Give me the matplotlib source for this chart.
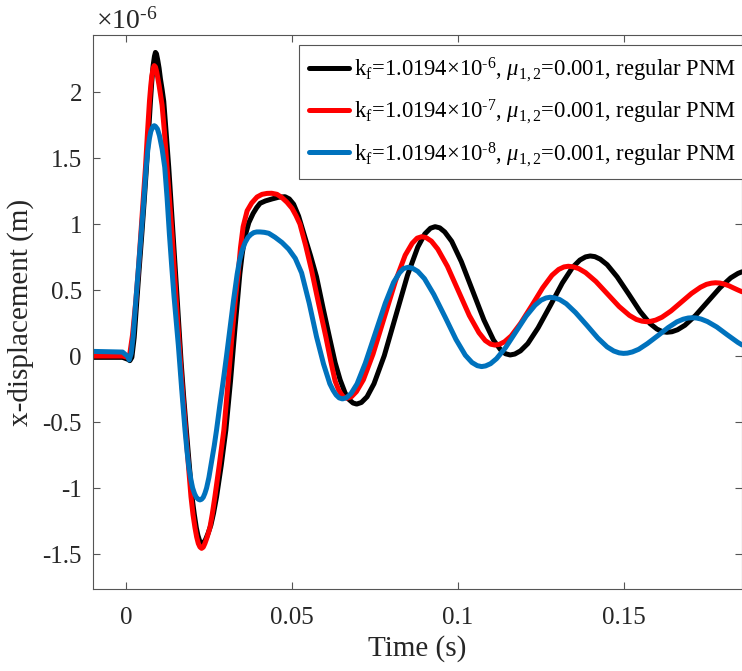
import matplotlib
matplotlib.use("Agg")
import matplotlib.pyplot as plt
from matplotlib.ticker import FuncFormatter

plt.rcParams['font.family'] = ['Liberation Serif', 'DejaVu Serif']
plt.rcParams['mathtext.fontset'] = 'custom'
plt.rcParams['mathtext.rm'] = 'Liberation Serif'
plt.rcParams['mathtext.it'] = 'Liberation Serif:italic'

# (time in s, x-displacement in 1e-6 m)
black_pts = [
    (-0.0099, -0.01), (-0.005, -0.01), (-0.001, -0.01), (0.0006, -0.025), (0.0012, -0.035),
    (0.0018, -0.01), (0.0025, 0.14), (0.0033, 0.42), (0.0040, 0.66), (0.0048, 0.924),
    (0.0055, 1.17), (0.0062, 1.43), (0.0068, 1.68), (0.0074, 1.93), (0.0078, 2.08),
    (0.0082, 2.20), (0.0086, 2.27), (0.0089, 2.30), (0.0092, 2.29), (0.0096, 2.24),
    (0.0100, 2.18), (0.0104, 2.10), (0.0109, 2.02), (0.0114, 1.93), (0.0121, 1.70),
    (0.0129, 1.43), (0.0142, 0.924), (0.0154, 0.45), (0.0166, -0.035), (0.0174, -0.31),
    (0.0182, -0.56), (0.0190, -0.80), (0.0199, -1.066), (0.0206, -1.20), (0.0212, -1.30),
    (0.0217, -1.36), (0.0222, -1.40), (0.0226, -1.415), (0.0230, -1.42), (0.0235, -1.41),
    (0.0240, -1.39), (0.0248, -1.34), (0.0256, -1.28), (0.0264, -1.19), (0.0273, -1.066),
    (0.0287, -0.83), (0.0301, -0.56), (0.0315, -0.19), (0.0328, 0.197), (0.0336, 0.42),
    (0.0343, 0.62), (0.0350, 0.77), (0.0358, 0.90), (0.0370, 1.01), (0.0383, 1.08),
    (0.0394, 1.125), (0.0404, 1.157), (0.0420, 1.175), (0.0440, 1.19), (0.0460, 1.203),
    (0.0479, 1.207), (0.0492, 1.19), (0.0505, 1.15), (0.0520, 1.06), (0.0539, 0.90),
    (0.0556, 0.76), (0.0574, 0.60), (0.0594, 0.36), (0.0614, 0.13), (0.0630, -0.05),
    (0.0645, -0.18), (0.0660, -0.28), (0.0672, -0.33), (0.0684, -0.356), (0.0695, -0.364),
    (0.0709, -0.352), (0.0726, -0.309), (0.0747, -0.210), (0.0778, 0.003), (0.0813, 0.308),
    (0.0848, 0.613), (0.0879, 0.826), (0.0900, 0.925), (0.0917, 0.968), (0.0931, 0.98),
    (0.0945, 0.971), (0.0960, 0.940), (0.0981, 0.869), (0.1010, 0.715), (0.1044, 0.494),
    (0.1078, 0.273), (0.1107, 0.120), (0.1128, 0.048), (0.1143, 0.017), (0.1157, 0.008),
    (0.1171, 0.015), (0.1188, 0.039), (0.1210, 0.094), (0.1241, 0.213), (0.1278, 0.383),
    (0.1314, 0.553), (0.1345, 0.672), (0.1367, 0.727), (0.1384, 0.751), (0.1398, 0.758),
    (0.1412, 0.753), (0.1428, 0.734), (0.1449, 0.692), (0.1479, 0.600), (0.1514, 0.469),
    (0.1548, 0.338), (0.1578, 0.246), (0.1599, 0.204), (0.1615, 0.185), (0.1629, 0.18),
    (0.1644, 0.184), (0.1661, 0.199), (0.1683, 0.233), (0.1715, 0.307), (0.1752, 0.4125),
    (0.1789, 0.518), (0.1821, 0.592), (0.1843, 0.626), (0.1855, 0.638),
]

red_pts = [
    (-0.0099, 0.0), (-0.005, 0.0), (-0.001, 0.0), (0.0005, -0.01), (0.0012, 0.02),
    (0.0020, 0.16), (0.0030, 0.42), (0.0038, 0.67), (0.0045, 0.924), (0.0052, 1.18),
    (0.0059, 1.43), (0.0065, 1.69), (0.0071, 1.93), (0.0075, 2.05), (0.0078, 2.12),
    (0.0082, 2.18), (0.00853, 2.20), (0.0089, 2.19), (0.0093, 2.15), (0.0100, 2.05),
    (0.0109, 1.90), (0.0116, 1.70), (0.0124, 1.43), (0.0139, 0.924), (0.0151, 0.45),
    (0.0163, 0.0), (0.0171, -0.28), (0.0180, -0.56), (0.0188, -0.82), (0.0196, -1.066),
    (0.0202, -1.20), (0.0208, -1.30), (0.0213, -1.37), (0.0218, -1.42), (0.0223, -1.447),
    (0.0228, -1.457), (0.0233, -1.448), (0.0238, -1.42), (0.0245, -1.37), (0.0253, -1.30),
    (0.0260, -1.20), (0.0268, -1.066), (0.0281, -0.83), (0.0295, -0.56), (0.0308, -0.19),
    (0.0321, 0.197), (0.0330, 0.44), (0.0338, 0.62), (0.0345, 0.82), (0.0353, 0.98),
    (0.0365, 1.10), (0.0379, 1.16), (0.0395, 1.205), (0.0410, 1.225), (0.0425, 1.232),
    (0.0439, 1.233), (0.0455, 1.225), (0.0470, 1.20), (0.0485, 1.165), (0.0500, 1.12),
    (0.0512, 1.065), (0.0524, 1.00), (0.0541, 0.84), (0.0559, 0.65), (0.0580, 0.40),
    (0.0602, 0.146), (0.0617, -0.04), (0.0630, -0.19), (0.0641, -0.26), (0.0653, -0.305),
    (0.0665, -0.32), (0.0679, -0.309), (0.0694, -0.270), (0.0715, -0.180), (0.0744, 0.014),
    (0.0778, 0.292), (0.0812, 0.570), (0.0841, 0.764), (0.0862, 0.854), (0.0877, 0.893),
    (0.0891, 0.904), (0.0904, 0.897), (0.0920, 0.870), (0.0939, 0.810), (0.0968, 0.680),
    (0.1001, 0.4935), (0.1034, 0.307), (0.1063, 0.177), (0.1082, 0.117), (0.1098, 0.090),
    (0.1111, 0.083), (0.1124, 0.088), (0.1140, 0.108), (0.1160, 0.152), (0.1188, 0.246),
    (0.1222, 0.3815), (0.1255, 0.517), (0.1283, 0.612), (0.1303, 0.656), (0.1319, 0.675),
    (0.1332, 0.68), (0.1346, 0.676), (0.1363, 0.663), (0.1384, 0.632), (0.1415, 0.565),
    (0.1450, 0.47), (0.1485, 0.375), (0.1516, 0.308), (0.1537, 0.277), (0.1554, 0.264),
    (0.1568, 0.26), (0.1580, 0.263), (0.1595, 0.272), (0.1614, 0.294), (0.1641, 0.341),
    (0.1672, 0.4075), (0.1703, 0.474), (0.1730, 0.521), (0.1748, 0.543), (0.1763, 0.552),
    (0.1775, 0.555), (0.1788, 0.553), (0.1800, 0.546), (0.1815, 0.533), (0.1830, 0.515),
    (0.1843, 0.50), (0.1855, 0.487),
]

blue_pts = [
    (-0.0099, 0.035), (-0.005, 0.032), (-0.001, 0.03), (0.0004, 0.0), (0.0010, -0.03),
    (0.0016, 0.02), (0.0022, 0.15), (0.0030, 0.42), (0.0038, 0.67), (0.0046, 0.924),
    (0.0054, 1.18), (0.0061, 1.43), (0.0066, 1.56), (0.0071, 1.65), (0.0075, 1.70),
    (0.0078, 1.72), (0.0082, 1.74), (0.00853, 1.745), (0.0089, 1.74), (0.0095, 1.72),
    (0.0101, 1.67), (0.0109, 1.57), (0.0117, 1.43), (0.0124, 1.20), (0.0131, 0.924),
    (0.0138, 0.68), (0.0145, 0.45), (0.0152, 0.25), (0.0158, 0.08), (0.0168, -0.25),
    (0.0178, -0.56), (0.0184, -0.72), (0.0190, -0.85), (0.0196, -0.94), (0.0201, -1.0),
    (0.0207, -1.045), (0.0212, -1.07), (0.0218, -1.085), (0.0223, -1.09), (0.0228, -1.085),
    (0.0233, -1.07), (0.0238, -1.04), (0.0243, -1.0), (0.0250, -0.92), (0.0258, -0.80),
    (0.0266, -0.68), (0.0273, -0.56), (0.0283, -0.37), (0.0293, -0.19), (0.0303, 0.0),
    (0.0313, 0.197), (0.0324, 0.42), (0.0335, 0.62), (0.0342, 0.72), (0.0350, 0.80),
    (0.0359, 0.86), (0.0368, 0.90), (0.0376, 0.92), (0.0385, 0.935), (0.0394, 0.94),
    (0.0404, 0.94), (0.0417, 0.937), (0.0430, 0.93), (0.0449, 0.90), (0.0470, 0.86),
    (0.0490, 0.81), (0.0510, 0.74), (0.0529, 0.63), (0.0552, 0.40), (0.0574, 0.146),
    (0.0595, -0.06), (0.0605, -0.14), (0.0614, -0.21), (0.0624, -0.26), (0.0633, -0.295),
    (0.0642, -0.317), (0.0652, -0.325), (0.0664, -0.316), (0.0678, -0.284), (0.0696, -0.211),
    (0.0721, -0.053), (0.0751, 0.1735), (0.0781, 0.400), (0.0806, 0.558), (0.0824, 0.631),
    (0.0836, 0.663), (0.0850, 0.672), (0.0863, 0.665), (0.0879, 0.641), (0.0899, 0.586),
    (0.0927, 0.467), (0.0961, 0.296), (0.0994, 0.125), (0.1022, 0.006), (0.1042, -0.049),
    (0.1058, -0.073), (0.1071, -0.08), (0.1083, -0.075), (0.1098, -0.058), (0.1116, -0.020),
    (0.1143, 0.063), (0.1174, 0.1825), (0.1205, 0.302), (0.1232, 0.385), (0.1250, 0.423),
    (0.1265, 0.440), (0.1277, 0.445), (0.1290, 0.441), (0.1306, 0.428), (0.1326, 0.396),
    (0.1354, 0.329), (0.1388, 0.2325), (0.1421, 0.136), (0.1449, 0.069), (0.1469, 0.038),
    (0.1485, 0.024), (0.1498, 0.02), (0.1510, 0.022), (0.1525, 0.031), (0.1544, 0.051),
    (0.1570, 0.094), (0.1602, 0.155), (0.1633, 0.216), (0.1659, 0.259), (0.1678, 0.279),
    (0.1693, 0.288), (0.1705, 0.29), (0.1718, 0.288), (0.1732, 0.280), (0.1751, 0.261),
    (0.1779, 0.220), (0.1810, 0.162), (0.1842, 0.104), (0.1855, 0.084),
]

HY = '\u2010'
labels = ['k$_\\mathrm{f}$=1.0194$\\times$10$^{' + HY + '6}$, $\\mu_{1,2}$=0.001, regular PNM',
          'k$_\\mathrm{f}$=1.0194$\\times$10$^{' + HY + '7}$, $\\mu_{1,2}$=0.001, regular PNM',
          'k$_\\mathrm{f}$=1.0194$\\times$10$^{' + HY + '8}$, $\\mu_{1,2}$=0.001, regular PNM']
colors = ['#000000', '#FF0000', '#0072BD']
xticks = [0, 0.05, 0.1, 0.15]
yticks = [-1.5, -1, -0.5, 0, 0.5, 1, 1.5, 2]

fig = plt.figure(figsize=(7.42, 6.71), dpi=100)
ax = fig.add_axes([93 / 742, 1 - 589 / 671, 1 - 93 / 742, (589 - 35) / 671])

for pts, c, lab in zip([black_pts, red_pts, blue_pts], colors, labels):
    t, y = zip(*pts)
    ax.plot(t, y, color=c, lw=3.6, label=lab, solid_capstyle='round', solid_joinstyle='round')

ax.set_xlim(-0.0099, 0.1855)
ax.set_ylim(-1.765, 2.432)
ax.set_xticks(xticks)
ax.set_yticks(yticks)
ax.xaxis.set_major_formatter(FuncFormatter(lambda v, p: '%g' % v))
ax.yaxis.set_major_formatter(FuncFormatter(lambda v, p: '%g' % v))
ax.tick_params(direction='in', length=5, width=0.8, top=True, right=True,
               labelsize=18, colors='#555555', labelcolor='#262626', pad=8)
ax.tick_params(axis='x', pad=13)
for s in ax.spines.values():
    s.set_color('#555555')
    s.set_linewidth(0.8)

ax.set_xlabel('Time (s)', fontsize=21, color='#262626', labelpad=4)
ax.set_ylabel('x-displacement (m)', fontsize=21, color='#262626', labelpad=6)
ax.text(0.004, 1.0, '\u00d710$^{' + HY + '6}$', transform=ax.transAxes, fontsize=20,
        color='#262626', ha='left', va='bottom')

leg = ax.legend(loc='upper left', bbox_to_anchor=((299 - 93) / 649, 1 - 10 / 554),
                borderaxespad=0, fontsize=16.3, handlelength=1.75, handletextpad=0.25,
                labelspacing=0.62, borderpad=0.45, fancybox=False, framealpha=1,
                edgecolor='#555555')
leg.get_frame().set_linewidth(0.8)

fig.savefig('out.png', dpi=100)
